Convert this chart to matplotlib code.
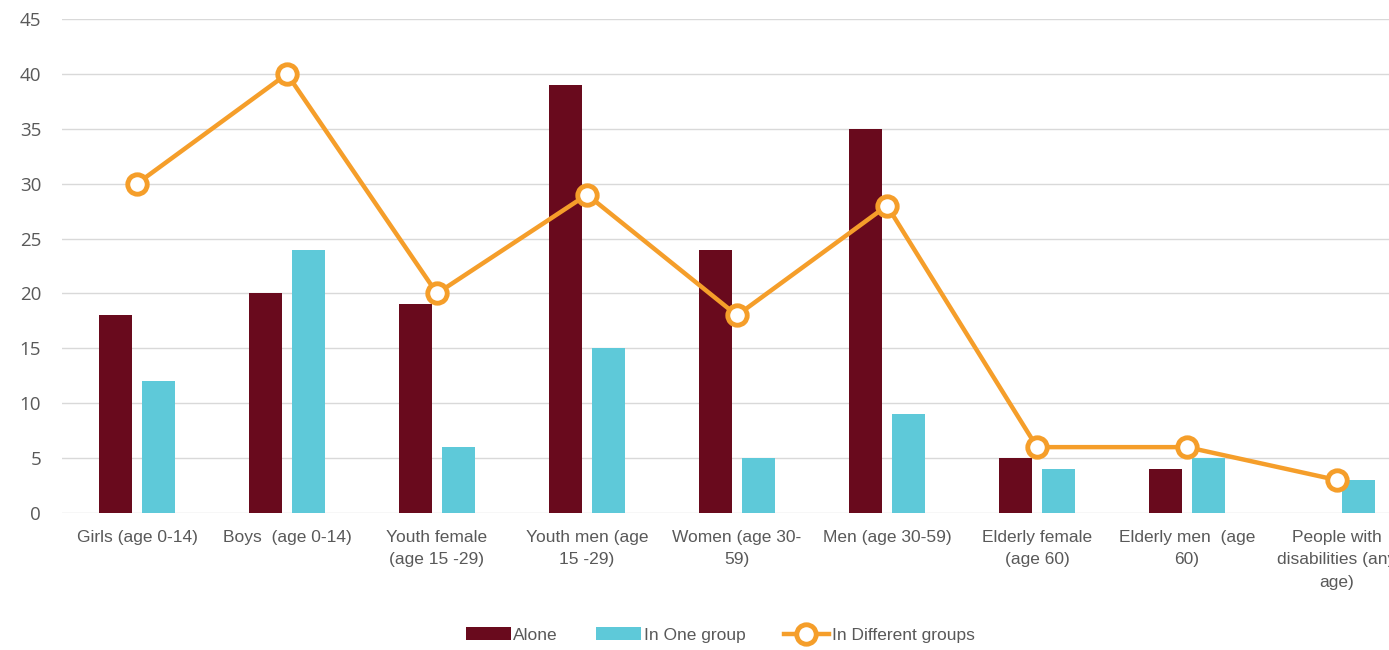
import numpy as np
import matplotlib
matplotlib.use("Agg")
from matplotlib import pyplot as plt

categories = ["Girls (age 0-14)", "Boys  (age 0-14)", "Youth female\n(age 15 -29)",
              "Youth men (age\n15 -29)", "Women (age 30-\n59)", "Men (age 30-59)",
              "Elderly female\n(age 60)", "Elderly men  (age\n60)",
              "People with\ndisabilities (any\nage)"]
alone = [18, 20, 19, 39, 24, 35, 5, 4, 0]
one_group = [12, 24, 6, 15, 5, 9, 4, 5, 3]
different_groups = [30, 40, 20, 29, 18, 28, 6, 6, 3]

narrow = ["Liberation Sans Narrow", "Liberation Sans", "DejaVu Sans"]
grey = "#595959"

fig = plt.figure(figsize=(13.89, 6.5), dpi=100)
ax = fig.add_axes([62 / 1389, 1 - 513 / 650, 1350 / 1389, (513 - 19) / 650])

x = np.arange(len(categories))
w = 0.22
b1 = ax.bar(x - 0.145, alone, w, color="#690A1D", label="Alone", zorder=2)
b2 = ax.bar(x + 0.145, one_group, w, color="#5EC9D9", label="In One group", zorder=2)
ln, = ax.plot(x, different_groups, color="#F59E2A", lw=3.2, marker="o", ms=14,
              mfc="white", mec="#F59E2A", mew=3.5, label="In Different groups", zorder=3)

ax.set_xlim(-0.5, 8.5)
ax.set_ylim(0, 45)
ax.set_yticks(range(0, 46, 5))
ax.grid(axis="y", color="#D9D9D9", lw=1, zorder=0)
for s in ax.spines.values():
    s.set_visible(False)
ax.tick_params(length=0)
ax.tick_params(axis="x", pad=12)
ax.tick_params(axis="y", pad=15)

ax.set_xticks(x)
ax.set_xticklabels(categories, family=narrow, fontsize=12.5, color=grey, linespacing=1.65)
for t in ax.get_yticklabels():
    t.set_family(["Open Sans", "DejaVu Sans"])
    t.set_fontsize(13.5)
    t.set_color(grey)

leg = ax.legend([b1, b2, ln], ["Alone", "In One group", "In Different groups"],
                loc="center", bbox_to_anchor=((720 - 62) / 1350, -0.247),
                ncol=3, frameon=False, prop={"family": narrow, "size": 12.5},
                handlelength=2.6, handleheight=0.8, columnspacing=2.2, handletextpad=0.15)
for t in leg.get_texts():
    t.set_color(grey)

fig.savefig("out.png", dpi=100)
